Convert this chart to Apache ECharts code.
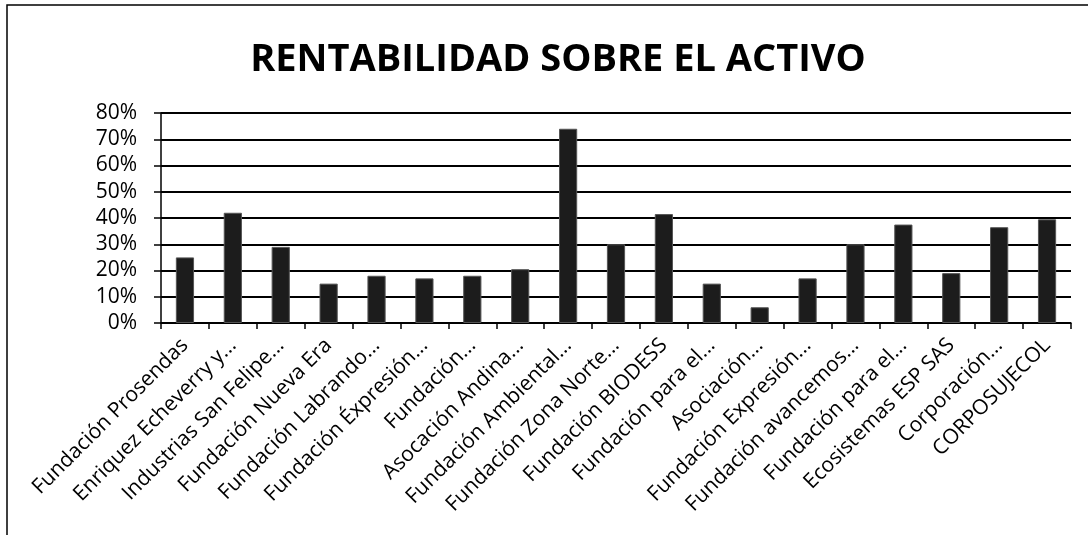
<!DOCTYPE html>
<html>
<head>
<meta charset="utf-8">
<script src="https://cdn.jsdelivr.net/npm/echarts@6/dist/echarts.min.js"></script>
<style>
  html, body { margin: 0; padding: 0; background: #fff; }
  #chart { width: 1088px; height: 535px; }
</style>
</head>
<body>
<div id="chart"></div>
<script>
const categories = [
  'Fundación Prosendas',
  'Enriquez Echeverry y...',
  'Industrias San Felipe...',
  'Fundación Nueva Era',
  'Fundación Labrando...',
  'Fundación Éxpresión...',
  'Fundación...',
  'Asocación Andina...',
  'Fundación Ambiental...',
  'Fundación Zona Norte...',
  'Fundación BIODESS',
  'Fundación para el...',
  'Asociación...',
  'Fundación Expresión...',
  'Fundación avancemos...',
  'Fundación para el...',
  'Ecosistemas ESP SAS',
  'Corporación...',
  'CORPOSUJECOL'
]
const rentabilidad = [25, 42, 29, 15, 18, 17, 18, 20.5, 74, 30, 41.5, 15, 6, 17, 30, 37.5, 19, 36.5, 39.5]
const yTicks = [0, 10, 20, 30, 40, 50, 60, 70, 80]

const myChart = echarts.init(document.getElementById('chart'))
const font = "'Open Sans', sans-serif"
const option = {
  animation: false,
  backgroundColor: '#fff',
  title: {
    text: 'RENTABILIDAD SOBRE EL ACTIVO',
    left: 553,
    textAlign: 'center',
    top: 36,
    textStyle: {
      fontFamily: font,
      fontWeight: 'bold',
      fontSize: 38,
      color: '#000'
    }
  },
  graphic: [
    {
      type: 'polyline',
      shape: { points: [[7, 540], [7, 5], [1090, 5]] },
      style: { stroke: '#000', lineWidth: 1.5, fill: null }
    }
  ],
  grid: {
    left: 161,
    right: 17,
    top: 113,
    bottom: 212
  },
  xAxis: {
    type: 'category',
    data: categories,
    axisLine: { lineStyle: { color: '#000', width: 1.5 } },
    axisTick: { show: true, length: 6, alignWithLabel: false, lineStyle: { color: '#000', width: 1.5 } },
    axisLabel: {
      interval: 0,
      rotate: 45,
      margin: 19,
      color: '#000',
      fontFamily: font,
      fontSize: 21
    }
  },
  yAxis: {
    type: 'value',
    min: yTicks[0],
    max: yTicks[yTicks.length - 1],
    interval: 10,
    axisLine: { show: true, lineStyle: { color: '#000', width: 1.5 } },
    axisTick: { show: true, length: 7, lineStyle: { color: '#000', width: 1.5 } },
    axisLabel: {
      margin: 24,
      color: '#000',
      fontFamily: font,
      fontSize: 21,
      formatter: '{value}%'
    },
    splitLine: { lineStyle: { color: '#000', width: 2 } }
  },
  series: [
    {
      name: 'Rentabilidad',
      type: 'bar',
      barWidth: '38%',
      data: rentabilidad,
      itemStyle: {
        color: '#1c1c1c',
        borderColor: '#555',
        borderWidth: 1
      }
    }
  ]
}
myChart.setOption(option)
</script>
</body>
</html>
